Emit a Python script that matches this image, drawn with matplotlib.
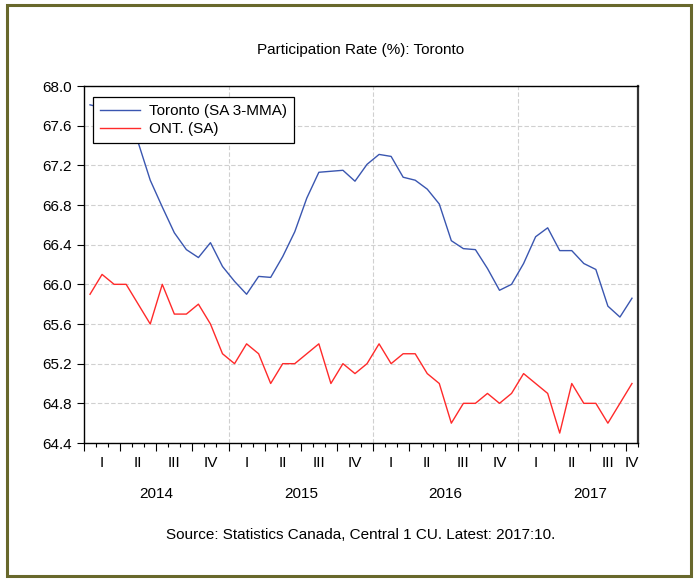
import matplotlib
matplotlib.use("Agg")
import matplotlib.pyplot as plt
import matplotlib.transforms as mtransforms
from matplotlib.patches import Rectangle

plt.rcParams['font.family'] = ['Liberation Sans', 'DejaVu Sans']

# monthly data, Jan 2014 .. Oct 2017
years = ["2014", "2015", "2016", "2017"]
quarters = ["I", "II", "III", "IV"]
toronto = [67.81, 67.78, 67.72, 67.62, 67.43, 67.05, 66.78, 66.52, 66.35, 66.27, 66.42, 66.18,
           66.03, 65.90, 66.08, 66.07, 66.28, 66.53, 66.87, 67.13, 67.14, 67.15, 67.04, 67.21,
           67.31, 67.29, 67.08, 67.05, 66.96, 66.81, 66.44, 66.36, 66.35, 66.16, 65.94, 66.00,
           66.21, 66.48, 66.57, 66.34, 66.34, 66.21, 66.15, 65.78, 65.67, 65.86]
ontario = [65.9, 66.1, 66.0, 66.0, 65.8, 65.6, 66.0, 65.7, 65.7, 65.8, 65.6, 65.3,
           65.2, 65.4, 65.3, 65.0, 65.2, 65.2, 65.3, 65.4, 65.0, 65.2, 65.1, 65.2,
           65.4, 65.2, 65.3, 65.3, 65.1, 65.0, 64.6, 64.8, 64.8, 64.9, 64.8, 64.9,
           65.1, 65.0, 64.9, 64.5, 65.0, 64.8, 64.8, 64.6, 64.8, 65.0]
yticks = [64.4, 64.8, 65.2, 65.6, 66.0, 66.4, 66.8, 67.2, 67.6, 68.0]

n = len(toronto)
x = list(range(n))
fs = 11

fig = plt.figure(figsize=(6.94, 5.80), dpi=100)
ax = fig.add_axes([84/694, 1-443/580, 554/694, 357/580])

# olive frame round the whole picture
fig.patches.append(Rectangle((0.0095, 0.0065), 0.986, 0.985, transform=fig.transFigure,
                             fill=False, edgecolor="#68682c", linewidth=2.2))

ax.plot(x, toronto, color="#3a56b0", lw=1.0, label="Toronto (SA 3-MMA)")
ax.plot(x, ontario, color="#ff2a2a", lw=1.0, label="ONT. (SA)")

ax.set_xlim(-0.5, n - 0.5)
ax.set_ylim(64.4, 68.0)
ax.set_yticks(yticks)
ax.set_yticklabels([f"{v:.1f}" for v in yticks], fontsize=fs)
ax.yaxis.grid(True, color="#d0d0d0", linestyle=(0, (4, 2)), lw=0.8)
ax.set_axisbelow(True)

# x ticks: months (minor) and quarters (major), labels drawn as text
ax.set_xticks([i - 0.5 for i in range(0, n + 1, 3)])
ax.set_xticks([i - 0.5 for i in range(n + 1)], minor=True)
ax.set_xticklabels([])
ax.tick_params(axis="x", which="major", length=6, width=0.8, direction="out")
ax.tick_params(axis="x", which="minor", length=3, width=0.8, direction="out")
ax.tick_params(axis="y", length=5, width=0.8, direction="out")

for yb in range(1, len(years)):
    ax.axvline(yb*12 - 0.5, color="#d0d0d0", linestyle=(0, (4, 2)), lw=0.8, zorder=0)

trans = mtransforms.blended_transform_factory(ax.transData, fig.transFigure)
for i in range(n):
    if i % 3 == 1 or i == n - 1 and i % 3 == 0:
        q = quarters[(i // 3) % 4]
        ax.text(i, 1-463/580, q, transform=trans, ha="center", va="center", fontsize=fs)
for k, yr in enumerate(years):
    ax.text(k*12 + 5.5, 1-494/580, yr, transform=trans, ha="center", va="center", fontsize=fs)

for s in ax.spines.values():
    s.set_linewidth(1.0)
ax.spines["right"].set_linewidth(1.6)
ax.spines["right"].set_color("#333333")

leg = ax.legend(loc="upper left", fontsize=fs, frameon=True, fancybox=False,
                edgecolor="black", framealpha=1, borderpad=0.45, labelspacing=0.28,
                handlelength=2.6, handletextpad=0.6, borderaxespad=0,
                bbox_to_anchor=(9/554, 1 - 11/357))
leg.get_frame().set_linewidth(0.9)

fig.text(361/694, 1-50/580, "Participation Rate (%): Toronto", ha="center", va="center", fontsize=fs)
fig.text(361/694, 1-535/580, "Source: Statistics Canada, Central 1 CU. Latest: 2017:10.",
         ha="center", va="center", fontsize=fs)

fig.savefig("out.png", dpi=100)
